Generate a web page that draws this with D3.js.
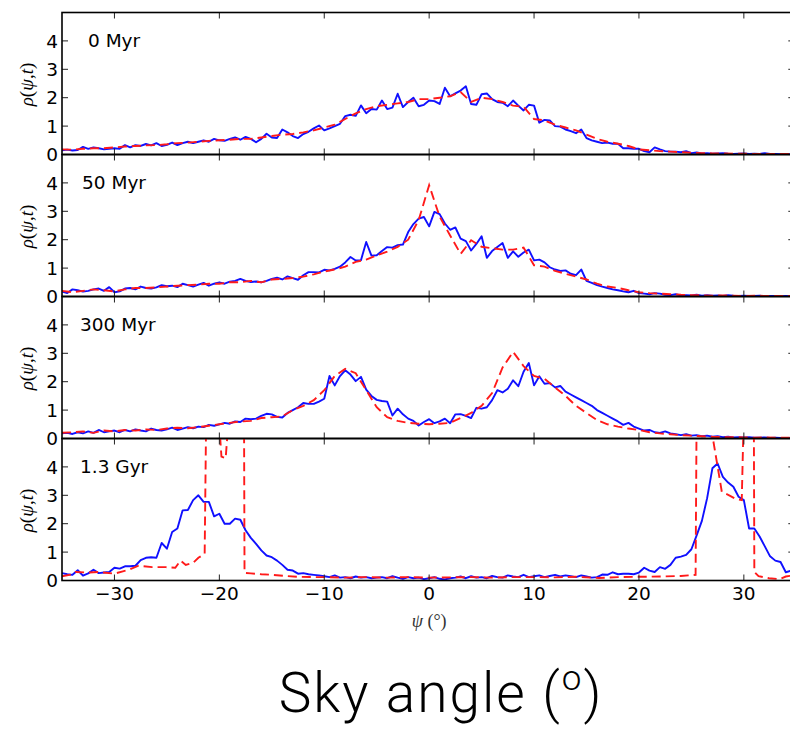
<!DOCTYPE html>
<html>
<head>
<meta charset="utf-8">
<script src="https://cdn.jsdelivr.net/npm/d3@7"></script>
<style>
  html, body { margin: 0; padding: 0; background: #fff; }
  svg { display: block; }
</style>
</head>
<body>
<svg id="chart" width="790" height="729"></svg>
<script>
// Sky-angle density rho(psi,t) at four epochs: simulation (blue) vs model (red dashed)

const panelLabels = ["0 Myr", "50 Myr", "300 Myr", "1.3 Gyr"]
const xTicks = [-30, -20, -10, 0, 10, 20, 30]
const yTicks = [0, 1, 2, 3, 4]

// fine grid (0.5 deg) used by the blue curves
const psiFine = [
  -35, -34.5, -34, -33.5, -33, -32.5, -32, -31.5, -31, -30.5,
  -30, -29.5, -29, -28.5, -28, -27.5, -27, -26.5, -26, -25.5,
  -25, -24.5, -24, -23.5, -23, -22.5, -22, -21.5, -21, -20.5,
  -20, -19.5, -19, -18.5, -18, -17.5, -17, -16.5, -16, -15.5,
  -15, -14.5, -14, -13.5, -13, -12.5, -12, -11.5, -11, -10.5,
  -10, -9.5, -9, -8.5, -8, -7.5, -7, -6.5, -6, -5.5,
  -5, -4.5, -4, -3.5, -3, -2.5, -2, -1.5, -1, -0.5,
  0, 0.5, 1, 1.5, 2, 2.5, 3, 3.5, 4, 4.5,
  5, 5.5, 6, 6.5, 7, 7.5, 8, 8.5, 9, 9.5,
  10, 10.5, 11, 11.5, 12, 12.5, 13, 13.5, 14, 14.5,
  15, 15.5, 16, 16.5, 17, 17.5, 18, 18.5, 19, 19.5,
  20, 20.5, 21, 21.5, 22, 22.5, 23, 23.5, 24, 24.5,
  25, 25.5, 26, 26.5, 27, 27.5, 28, 28.5, 29, 29.5,
  30, 30.5, 31, 31.5, 32, 32.5, 33, 33.5, 34, 34.5
]

// coarse grid (1 deg) used by the red curves of the first three panels
const psiCoarse = [
  -35, -34, -33, -32, -31, -30, -29, -28, -27, -26,
  -25, -24, -23, -22, -21, -20, -19, -18, -17, -16,
  -15, -14, -13, -12, -11, -10, -9, -8, -7, -6,
  -5, -4, -3, -2, -1, 0, 1, 2, 3, 4,
  5, 6, 7, 8, 9, 10, 11, 12, 13, 14,
  15, 16, 17, 18, 19, 20, 21, 22, 23, 24,
  25, 26, 27, 28, 29, 30, 31, 32, 33, 34, 35
]

const blue0 = [
  0.15, 0.17, 0.14, 0.16, 0.27, 0.20, 0.25, 0.22, 0.18, 0.20,
  0.22, 0.20, 0.33, 0.25, 0.33, 0.30, 0.37, 0.32, 0.40, 0.30,
  0.34, 0.42, 0.33, 0.40, 0.45, 0.40, 0.45, 0.50, 0.45, 0.55,
  0.50, 0.48, 0.55, 0.60, 0.52, 0.62, 0.55, 0.43, 0.55, 0.73,
  0.60, 0.58, 0.88, 0.78, 0.65, 0.58, 0.72, 0.80, 0.92, 1.02,
  0.85, 0.92, 1.00, 1.08, 1.35, 1.40, 1.36, 1.73, 1.45, 1.60,
  1.58, 1.90, 1.60, 1.65, 2.14, 1.67, 1.85, 2.00, 1.70, 1.75,
  1.90, 1.88, 1.78, 2.35, 2.05, 2.15, 2.25, 2.40, 1.78, 1.75,
  2.12, 2.15, 1.95, 1.85, 1.82, 1.70, 1.90, 1.72, 1.55, 1.75,
  1.72, 1.12, 1.22, 1.20, 1.00, 0.98, 0.88, 0.82, 0.75, 0.88,
  0.58, 0.50, 0.45, 0.40, 0.42, 0.38, 0.38, 0.22, 0.22, 0.20,
  0.20, 0.12, 0.08, 0.25, 0.18, 0.12, 0.10, 0.10, 0.08, 0.12,
  0.05, 0.07, 0.04, 0.05, 0.03, 0.04, 0.05, 0.03, 0.02, 0.03,
  0.04, 0.02, 0.03, 0.02, 0.05, 0.02, 0.02, 0.01, 0.02, 0.01
]
const red0 = [
  0.18, 0.17, 0.20, 0.22, 0.22, 0.25, 0.28, 0.30, 0.32, 0.33,
  0.36, 0.40, 0.42, 0.45, 0.48, 0.50, 0.52, 0.55, 0.55, 0.60,
  0.65, 0.70, 0.72, 0.78, 0.85, 0.95, 1.05, 1.25, 1.45, 1.60,
  1.70, 1.75, 1.80, 1.85, 1.95, 1.95, 2.00, 2.05, 2.20, 1.85,
  2.00, 1.95, 1.85, 1.72, 1.68, 1.25, 1.20, 1.05, 0.95, 0.85,
  0.70, 0.55, 0.45, 0.38, 0.30, 0.18, 0.15, 0.12, 0.10, 0.08,
  0.06, 0.05, 0.04, 0.04, 0.03, 0.03, 0.02, 0.02, 0.02, 0.02, 0.02
]

const blue1 = [
  0.18, 0.12, 0.25, 0.22, 0.17, 0.20, 0.25, 0.28, 0.20, 0.33,
  0.15, 0.18, 0.28, 0.30, 0.25, 0.35, 0.30, 0.28, 0.32, 0.40,
  0.36, 0.38, 0.33, 0.45, 0.40, 0.35, 0.42, 0.48, 0.38, 0.45,
  0.50, 0.45, 0.52, 0.55, 0.62, 0.55, 0.51, 0.53, 0.50, 0.55,
  0.62, 0.66, 0.60, 0.71, 0.65, 0.59, 0.75, 0.86, 0.86, 0.85,
  0.94, 0.92, 0.97, 1.05, 1.20, 1.39, 1.27, 1.28, 1.92, 1.44,
  1.45, 1.60, 1.74, 1.72, 1.81, 1.83, 2.27, 2.55, 2.74, 2.80,
  2.47, 2.98, 2.90, 2.57, 2.35, 2.43, 2.04, 1.95, 1.62, 1.85,
  2.12, 1.36, 1.60, 1.74, 1.88, 1.36, 1.59, 1.40, 1.55, 1.65,
  1.27, 1.30, 1.20, 1.03, 0.95, 0.90, 0.92, 0.80, 0.75, 0.95,
  0.55, 0.48, 0.40, 0.35, 0.30, 0.25, 0.22, 0.18, 0.15, 0.20,
  0.12, 0.10, 0.08, 0.12, 0.10, 0.06, 0.05, 0.08, 0.04, 0.05,
  0.04, 0.06, 0.03, 0.05, 0.03, 0.04, 0.02, 0.05, 0.03, 0.02,
  0.03, 0.02, 0.02, 0.03, 0.01, 0.02, 0.02, 0.01, 0.02, 0.01
]
const red1 = [
  0.20, 0.15, 0.20, 0.25, 0.22, 0.18, 0.25, 0.30, 0.30, 0.32,
  0.35, 0.38, 0.40, 0.42, 0.45, 0.45, 0.50, 0.50, 0.55, 0.50,
  0.60, 0.62, 0.65, 0.70, 0.78, 0.88, 0.95, 1.05, 1.22, 1.30,
  1.45, 1.58, 1.75, 2.00, 2.69, 3.92, 2.81, 2.15, 1.50, 1.98,
  1.75, 1.70, 1.65, 1.65, 1.72, 1.10, 1.05, 0.90, 0.80, 0.70,
  0.60, 0.45, 0.35, 0.30, 0.22, 0.15, 0.12, 0.10, 0.08, 0.06,
  0.05, 0.04, 0.03, 0.04, 0.03, 0.02, 0.03, 0.02, 0.02, 0.02, 0.02
]

const blue2 = [
  0.18, 0.20, 0.16, 0.22, 0.18, 0.25, 0.20, 0.30, 0.22, 0.25,
  0.28, 0.22, 0.30, 0.25, 0.32, 0.28, 0.25, 0.35, 0.30, 0.28,
  0.32, 0.38, 0.30, 0.35, 0.40, 0.36, 0.42, 0.40, 0.48, 0.45,
  0.50, 0.55, 0.52, 0.60, 0.58, 0.70, 0.68, 0.70, 0.80, 0.87,
  0.85, 0.76, 0.74, 0.90, 1.00, 1.10, 1.25, 1.22, 1.22, 1.30,
  1.40, 2.20, 1.87, 2.20, 2.40, 2.25, 2.02, 2.17, 1.72, 1.50,
  1.36, 1.32, 1.30, 0.81, 1.05, 0.85, 0.70, 0.62, 0.46, 0.58,
  0.68, 0.54, 0.60, 0.70, 0.54, 0.85, 0.86, 0.80, 0.72, 1.08,
  1.05, 1.10, 1.35, 1.70, 1.62, 1.75, 2.05, 1.84, 2.35, 2.66,
  1.87, 2.19, 1.93, 1.95, 1.80, 1.85, 1.65, 1.55, 1.45, 1.35,
  1.25, 1.15, 1.00, 0.90, 0.80, 0.70, 0.60, 0.48, 0.55, 0.42,
  0.35, 0.28, 0.30, 0.22, 0.20, 0.25, 0.18, 0.15, 0.12, 0.15,
  0.10, 0.12, 0.08, 0.10, 0.06, 0.08, 0.05, 0.06, 0.04, 0.05,
  0.04, 0.05, 0.03, 0.03, 0.04, 0.02, 0.03, 0.02, 0.02, 0.02
]
const red2 = [
  0.20, 0.22, 0.25, 0.20, 0.28, 0.25, 0.30, 0.28, 0.32, 0.30,
  0.35, 0.38, 0.36, 0.40, 0.45, 0.50, 0.55, 0.60, 0.62, 0.72,
  0.75, 0.78, 1.00, 1.15, 1.35, 1.70, 2.20, 2.45, 2.30, 1.70,
  1.10, 0.75, 0.62, 0.55, 0.52, 0.50, 0.52, 0.55, 0.72, 0.90,
  1.15, 1.60, 2.50, 3.05, 2.55, 2.20, 2.10, 1.80, 1.50, 1.15,
  0.90, 0.65, 0.50, 0.42, 0.35, 0.30, 0.22, 0.18, 0.15, 0.12,
  0.10, 0.08, 0.06, 0.05, 0.05, 0.04, 0.03, 0.04, 0.03, 0.03, 0.03
]

const blue3 = [
  0.26, 0.22, 0.20, 0.36, 0.17, 0.25, 0.38, 0.26, 0.28, 0.30,
  0.45, 0.42, 0.50, 0.50, 0.52, 0.72, 0.80, 0.82, 0.80, 1.32,
  1.12, 1.71, 1.83, 2.47, 2.48, 2.83, 3.00, 2.77, 2.77, 2.26,
  2.35, 2.00, 2.00, 2.18, 2.14, 1.77, 1.50, 1.29, 1.06, 0.88,
  0.82, 0.70, 0.55, 0.38, 0.35, 0.24, 0.26, 0.22, 0.20, 0.18,
  0.15, 0.12, 0.18, 0.10, 0.12, 0.08, 0.14, 0.10, 0.12, 0.08,
  0.10, 0.12, 0.08, 0.15, 0.10, 0.06, 0.12, 0.08, 0.10, 0.05,
  0.08, 0.12, 0.06, 0.04, 0.08, 0.10, 0.14, 0.08, 0.15, 0.10,
  0.12, 0.08, 0.16, 0.12, 0.10, 0.18, 0.14, 0.12, 0.20, 0.12,
  0.15, 0.18, 0.12, 0.16, 0.20, 0.14, 0.18, 0.15, 0.12, 0.18,
  0.14, 0.10, 0.12, 0.21, 0.20, 0.29, 0.22, 0.24, 0.24, 0.22,
  0.28, 0.45, 0.35, 0.30, 0.47, 0.41, 0.55, 0.80, 0.84, 0.90,
  1.10, 1.59, 2.10, 2.90, 3.95, 4.12, 3.65, 3.45, 3.30, 2.95,
  2.83, 1.83, 1.83, 1.55, 1.20, 0.85, 0.70, 0.65, 0.29, 0.35
]
// the last model curve has sharp walls, so it keeps its own psi points
const psiRed3 = [
  -35, -34, -33.7, -32.5, -31.5, -30, -29.2, -28.6, -27.7, -26.4,
  -25.1, -24.2, -23.7, -23.2, -22.5, -22, -21.4, -21.25, -20.1, -19.8,
  -19.4, -19.05, -17.65, -17.6, -17, -16, -15, -13.7, -12.5, -11,
  -10, -8, -6, -4, -2, 0, 2, 4, 6, 8,
  10, 12, 14, 16.2, 18, 20, 22, 24, 24.7, 25.4,
  25.5, 26.6, 27.9, 28.6, 29.2, 29.8, 30.0, 30.95, 31.0, 31.4,
  32.4, 33.4, 34, 35
]
const red3 = [
  0.15, 0.22, 0.30, 0.28, 0.30, 0.24, 0.32, 0.38, 0.52, 0.47,
  0.47, 0.45, 0.70, 0.55, 0.62, 0.80, 0.94, 6, 6, 4.36,
  4.30, 6, 6, 0.27, 0.25, 0.22, 0.20, 0.16, 0.13, 0.12,
  0.12, 0.10, 0.12, 0.10, 0.12, 0.10, 0.11, 0.12, 0.10, 0.12,
  0.12, 0.11, 0.13, 0.09, 0.12, 0.13, 0.14, 0.16, 0.18, 0.20,
  6, 6, 3.12, 3.00, 2.88, 2.83, 6, 6, 0.30, 0.15,
  0.08, 0.05, 0.14, 0.20
]

const panels = [
  { label: panelLabels[0], blue: blue0, redX: psiCoarse, red: red0 },
  { label: panelLabels[1], blue: blue1, redX: psiCoarse, red: red1 },
  { label: panelLabels[2], blue: blue2, redX: psiCoarse, red: red2 },
  { label: panelLabels[3], blue: blue3, redX: psiRed3, red: red3 }
]

// layout
const plotLeft = 62
const plotTop = 12.5
const panelH = 142
const pxPerDeg = 10.49
const labelX = [88, 82, 80, 80]
const tickFont = "'DejaVu Sans', sans-serif"

const svg = d3.select("#chart")

const x = d3.scaleLinear()
  .domain([-35, 35])
  .range([plotLeft, plotLeft + 70 * pxPerDeg])

const y = d3.scaleLinear()
  .domain([0, 5])
  .range([panelH, 0])

const line = d3.line()
  .x(d => x(d[0]))
  .y(d => y(d[1]))

const plotW = x.range()[1] - x.range()[0]

panels.forEach((p, i) => {
  const g = svg.append("g")
    .attr("transform", `translate(0,${plotTop + i * panelH})`)

  g.append("clipPath")
    .attr("id", `clip${i}`)
    .append("rect")
    .attr("x", plotLeft)
    .attr("y", 0)
    .attr("width", plotW)
    .attr("height", panelH)

  const plot = g.append("g").attr("clip-path", `url(#clip${i})`)

  plot.append("path")
    .datum(psiFine.map((v, k) => [v, p.blue[k]]))
    .attr("fill", "none")
    .attr("stroke", "#1010ff")
    .attr("stroke-width", 1.9)
    .attr("stroke-linejoin", "round")
    .attr("d", line)

  plot.append("path")
    .datum(p.redX.map((v, k) => [v, p.red[k]]))
    .attr("fill", "none")
    .attr("stroke", "#ff1a1a")
    .attr("stroke-width", 1.9)
    .attr("stroke-dasharray", "9,5")
    .attr("d", line)

  // inward ticks on all four sides
  const ticks = g.append("g").attr("stroke", "#222").attr("stroke-width", 1)
  xTicks.forEach(t => {
    ticks.append("line")
      .attr("x1", x(t)).attr("x2", x(t))
      .attr("y1", 0).attr("y2", 6)
    ticks.append("line")
      .attr("x1", x(t)).attr("x2", x(t))
      .attr("y1", panelH).attr("y2", panelH - 6)
  })
  yTicks.slice(1).forEach(t => {
    ticks.append("line")
      .attr("x1", plotLeft).attr("x2", plotLeft + 6)
      .attr("y1", y(t)).attr("y2", y(t))
    ticks.append("line")
      .attr("x1", x(35)).attr("x2", x(35) - 8)
      .attr("y1", y(t)).attr("y2", y(t))
  })

  g.append("rect")
    .attr("x", plotLeft)
    .attr("y", 0)
    .attr("width", plotW)
    .attr("height", panelH)
    .attr("fill", "none")
    .attr("stroke", "#000")
    .attr("stroke-width", 1.6)

  g.selectAll(".ylab")
    .data(yTicks)
    .enter()
    .append("text")
    .attr("x", plotLeft - 4)
    .attr("y", d => y(d))
    .attr("dy", "0.36em")
    .attr("text-anchor", "end")
    .style("font-family", tickFont)
    .style("font-size", "18.5px")
    .style("fill", "#000")
    .text(d => d)

  g.append("text")
    .attr("x", labelX[i])
    .attr("y", 34.5)
    .style("font-family", tickFont)
    .style("font-size", "18.5px")
    .style("fill", "#000")
    .text(p.label)

  // y label rho(psi,t) in math style
  const yl = g.append("text")
    .attr("transform", `translate(33,${panelH / 2 + 1}) rotate(-90)`)
    .attr("text-anchor", "middle")
    .style("font-family", "'Liberation Serif', 'DejaVu Serif', serif")
    .style("font-size", "19px")
    .style("fill", "#000")
  ;[["ρ", true], ["(", false], ["ψ", true], [",", false], ["t", true], [")", false]]
    .forEach(([s, it]) => {
      yl.append("tspan").style("font-style", it ? "italic" : "normal").text(s)
    })

  if (i === panels.length - 1) {
    g.selectAll(".xlab")
      .data(xTicks)
      .enter()
      .append("text")
      .attr("x", d => x(d))
      .attr("y", panelH + 19)
      .attr("text-anchor", "middle")
      .style("font-family", tickFont)
      .style("font-size", "18.5px")
      .style("fill", "#000")
      .text(d => d < 0 ? "\u2212" + Math.abs(d) : d)
  }
})

// x axis label
const xl = svg.append("text")
  .attr("x", x(0))
  .attr("y", 627)
  .attr("text-anchor", "middle")
  .style("font-family", "'Liberation Serif', 'DejaVu Serif', serif")
  .style("font-size", "18px")
  .style("fill", "#333")
xl.append("tspan").style("font-style", "italic").text("ψ")
xl.append("tspan").text(" (°)")

// big caption underneath
const cap = svg.append("text")
  .attr("x", 441)
  .attr("y", 712)
  .attr("text-anchor", "middle")
  .style("font-family", "Roboto, Lato, 'Open Sans', sans-serif")
  .style("font-weight", 300)
  .style("font-size", "55px")
  .style("letter-spacing", "2px")
  .style("fill", "#000")
cap.append("tspan").text("Sky angle (")
cap.append("tspan")
  .attr("dy", -22)
  .style("font-size", "35px")
  .text("o")
cap.append("tspan")
  .attr("dy", 22)
  .text(")")
</script>
</body>
</html>
